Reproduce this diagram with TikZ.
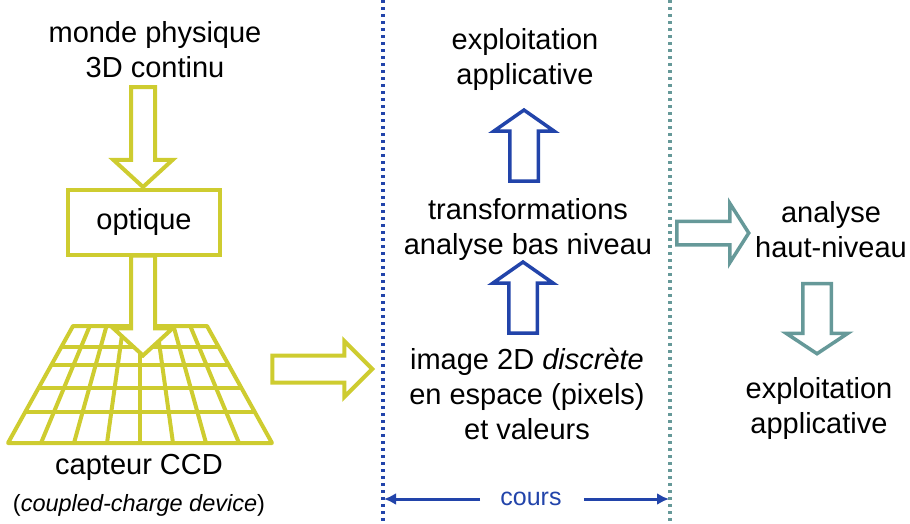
\documentclass[tikz,border=0pt]{standalone}
\usepackage{fontspec}
\setmainfont{Liberation Sans}
\usetikzlibrary{shapes.arrows,arrows.meta,positioning}

\definecolor{ccdyellow}{RGB}{206,204,48}
\definecolor{coursblue}{RGB}{34,68,170}
\definecolor{hautteal}{RGB}{102,153,153}

\begin{document}
\begin{tikzpicture}[
    x=1pt, y=-1pt,
    txt/.style={font=\fontsize{29}{35}\selectfont, align=center, inner sep=0pt},
    ccdgrid/.style={draw=ccdyellow, line width=4pt, line join=round},
    yarrow/.style={single arrow, draw=ccdyellow, fill=white, line width=4pt, inner xsep=0pt, inner ysep=10pt, single arrow head extend=17.5pt, single arrow tip angle=95, minimum height=100pt},
    barrow/.style={single arrow, draw=coursblue, fill=white, line width=3.5pt, inner xsep=0pt, inner ysep=12.5pt, single arrow head extend=16pt, single arrow tip angle=110, minimum height=71pt},
    tarrow/.style={single arrow, draw=hautteal, fill=white, line width=3.5pt, inner xsep=0pt, inner ysep=12.5pt, single arrow head extend=16.5pt, single arrow tip angle=113, minimum height=70pt},
    sepline/.style={line width=3.2pt, dash pattern=on 3pt off 4pt},
    coursarrow/.style={draw=coursblue, line width=3pt, -{Latex[length=12pt,width=12pt]}}
]
    \useasboundingbox (0,0) rectangle (910,523);

    % separating dotted lines
    \coordinate (blueTop) at (383,0);
    \coordinate (blueBot) at (383,523);
    \coordinate (tealTop) at (670,0);
    \coordinate (tealBot) at (670,523);
    \draw[sepline, coursblue] (blueTop) -- (blueBot);
    \draw[sepline, hautteal] (tealTop) -- (tealBot);

    % capteur CCD grid
    \draw[ccdgrid] (73,326) -- (207,326) -- (272,443) -- (8,443) -- cycle;
    \foreach \i in {1,...,7}
        \draw[ccdgrid] (73+16.75*\i,326) -- (8+33*\i,443);
    \foreach \yy in {347,365,388,412} {
        \pgfmathsetmacro\dx{65*(\yy-326)/117}
        \draw[ccdgrid] (73-\dx,\yy) -- (207+\dx,\yy);
    }

    % left column
    \node[txt] (monde) at (155,50) {monde physique\\3D continu};
    \node[txt, draw=ccdyellow, line width=4pt, minimum width=152pt, minimum height=65pt] (optique) at (144,222) {optique};
    \node[yarrow, rotate=-90] (mondeOptique) at (143,131.5) {};
    \node[yarrow, rotate=-90] (optiqueCcd) at (143,300) {};
    \node[txt] (capteur) at (139,467) {capteur CCD};
    \node[font=\fontsize{23.5}{28}\selectfont, inner sep=0pt] (ccdname) at (139,505) {(\textit{coupled-charge device})};
    \node[yarrow, inner ysep=11.5pt, single arrow head extend=14.5pt, single arrow tip angle=90] (ccdImage) at (315.5,369) {};

    % middle column
    \node[txt] (exploit) at (525,59) {exploitation\\applicative};
    \node[barrow, rotate=90] (transfExploit) at (524,150.5) {};
    \node[txt] (transf) at (528,229) {transformations\\analyse bas niveau};
    \node[barrow, rotate=90] (imageTransf) at (523,302.5) {};
    \node[txt] (image) at (527,394) {image 2D \textit{discrète}\\en espace (pixels)\\et valeurs};

    % right column
    \node[tarrow, inner ysep=10pt, single arrow head extend=18pt, single arrow tip angle=115, minimum height=72pt] (transfHaut) at (709,233) {};
    \node[txt] (haut) at (831,230) {analyse\\haut-niveau};
    \node[tarrow, rotate=-90] (hautExploit) at (817,314) {};
    \node[txt] (exploitR) at (819,408) {exploitation\\applicative};

    % cours
    \node[font=\fontsize{25}{30}\selectfont, text=coursblue, inner sep=0pt] (cours) at (531,499) {cours};
    \coordinate (coursL) at (384,499);
    \coordinate (coursR) at (669,499);
    \draw[coursarrow] ([xshift=-20pt]cours.west) -- (coursL);
    \draw[coursarrow] ([xshift=22pt]cours.east) -- (coursR);
\end{tikzpicture}
\end{document}
